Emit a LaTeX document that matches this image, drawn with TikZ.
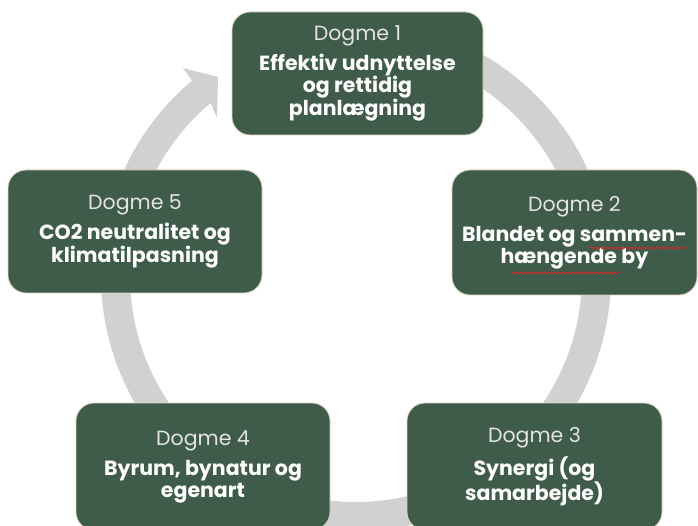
\documentclass[tikz,border=0pt]{standalone}
\usepackage{fontspec}
\setmainfont{Poppins}
\usetikzlibrary{calc,decorations.pathmorphing}
\definecolor{boxgreen}{HTML}{3F5C4B}
\definecolor{ringgrey}{HTML}{D0D1D0}
\definecolor{rimcol}{HTML}{D9D4BC}
\definecolor{headcol}{HTML}{E4E4E0}
\definecolor{squig}{HTML}{D02828}
\newcommand{\dhead}[1]{{\color{headcol}\mdseries #1}\\[8pt]}
\begin{document}
\begin{tikzpicture}[x=1pt,y=-1pt,
  dogbox/.style={draw=rimcol, line width=0.8pt, fill=boxgreen, rounded corners=18pt,
    align=center, text=white, inner sep=0pt,
    font=\fontsize{20.5}{22}\selectfont\bfseries},
  spell/.style={draw=squig, line width=0.8pt,
    decorate, decoration={snake, segment length=3.5pt, amplitude=1pt}}
]
\useasboundingbox (0,0) rectangle (698,526);
\fill[white] (0,0) rectangle (698,526);
\coordinate (c) at (356,276);
% circular arrow
\fill[ringgrey] (c) ++(-70:255) arc[start angle=-70, end angle=230, radius=255]
  -- (183,68) -- (218,77) -- (217,118)
  -- ($(c)+(230:226)$) arc[start angle=230, end angle=-70, radius=226] -- cycle;
% boxes
\node[dogbox, minimum width=251pt, minimum height=123pt] (b1) at (357.5,73.5)
  {\dhead{Dogme 1}Effektiv udnyttelse\\og rettidig\\planlægning};
\node[dogbox, minimum width=245pt, minimum height=125pt] (b2) at (574.5,232.5)
  {\dhead{Dogme 2}Blandet og sammen-\\hængende by};
\node[dogbox, minimum width=255pt, minimum height=127pt] (b3) at (534.5,466.5)
  {\dhead{Dogme 3}Synergi (og\\samarbejde)};
\node[dogbox, minimum width=254pt, minimum height=127pt] (b4) at (203,466.5)
  {\dhead{Dogme 4}Byrum, bynatur og\\egenart};
\node[dogbox, minimum width=254pt, minimum height=123pt] (b5) at (135,231.5)
  {\dhead{Dogme 5}CO2 neutralitet og\\klimatilpasning};
% spell-check squiggles
\coordinate (s1a) at (589,248); \coordinate (s1b) at (687,248);
\coordinate (s2a) at (512,273); \coordinate (s2b) at (620,273);
\draw[spell] (s1a) -- (s1b);
\draw[spell] (s2a) -- (s2b);
\end{tikzpicture}
\end{document}
